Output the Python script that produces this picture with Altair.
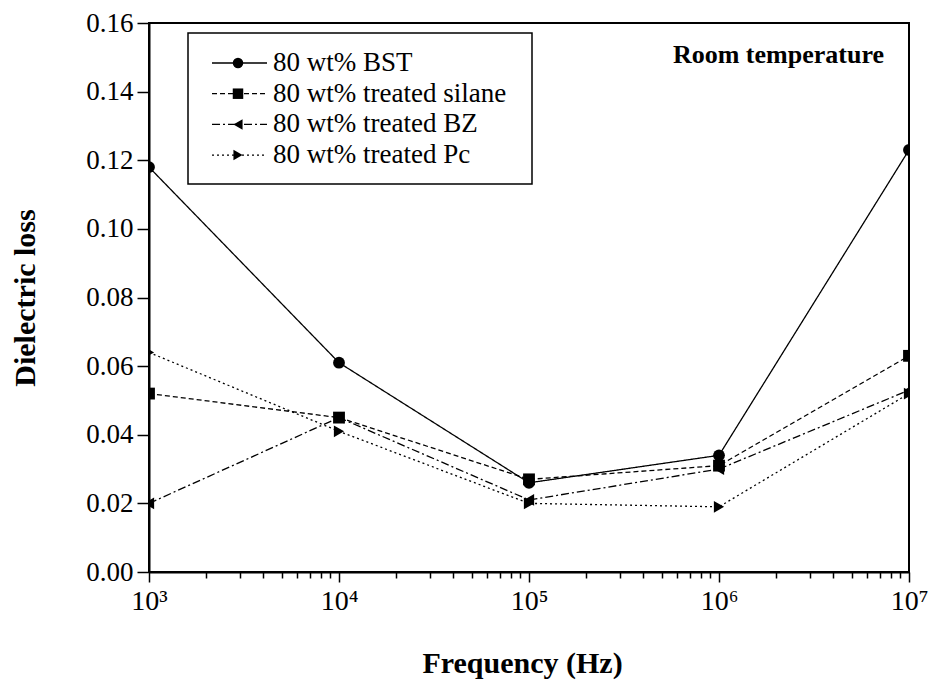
import altair as alt
import pandas as pd

# Measured dielectric loss of the BST composites at room temperature
freq = [1e3, 1e4, 1e5, 1e6, 1e7]
series = [
    "80 wt% BST",
    "80 wt% treated silane",
    "80 wt% treated BZ",
    "80 wt% treated Pc",
]
loss_bst = [0.118, 0.061, 0.026, 0.034, 0.123]
loss_silane = [0.052, 0.045, 0.027, 0.031, 0.063]
loss_bz = [0.020, 0.045, 0.021, 0.030, 0.053]
loss_pc = [0.064, 0.041, 0.020, 0.019, 0.052]

shapes = ["circle", "square", "triangle-left", "triangle-right"]
dashes = [[1, 0], [5, 3], [8, 3, 2, 3], [2, 3]]

rows = []
for name, vals in zip(series, [loss_bst, loss_silane, loss_bz, loss_pc]):
    for f, v in zip(freq, vals):
        rows.append({"series": name, "freq": f, "loss": v})
df = pd.DataFrame(rows)
legend_df = pd.DataFrame({"series": series, "idx": list(range(len(series)))})
one = pd.DataFrame({"a": [0]})

FONT = "Liberation Serif"

# axis tick positions: decades with minor ticks, 0.01 steps on y
x_ticks = [m * 10 ** k for k in range(3, 7) for m in range(1, 10)] + [1e7]
y_ticks = [round(i * 0.01, 2) for i in range(0, 17)]

is_decade = "abs(log(datum.value)/LN10 - round(log(datum.value)/LN10)) < 1e-6"
x_label = (
    f"({is_decade}) ? '10' + substring('⁰¹²³⁴⁵⁶⁷⁸⁹', round(log(datum.value)/LN10), "
    "round(log(datum.value)/LN10) + 1) : ''"
)
is_major_y = "round(datum.value*100) % 2 == 0"

x_enc = alt.X(
    "freq:Q",
    scale=alt.Scale(type="log", domain=[1e3, 1e7], nice=False),
    axis=alt.Axis(
        title="Frequency (Hz)",
        values=x_ticks,
        labelExpr=x_label,
        tickSize={"condition": {"test": is_decade, "value": 10}, "value": 6},
        labelPadding=5,
        labelFontSize=28,
        labelFlush=False,
        labelOverlap=False,
        titleX=373,
        titleY=100,
        titleBaseline="alphabetic",
    ),
)
y_enc = alt.Y(
    "loss:Q",
    scale=alt.Scale(domain=[0, 0.16], nice=False, zero=False),
    axis=alt.Axis(
        title="Dielectric loss",
        values=y_ticks,
        labelExpr=f"({is_major_y}) ? format(datum.value, '.2f') : ''",
        tickSize={"condition": {"test": is_major_y, "value": 12}, "value": 7},
        labelPadding=4,
        labelOverlap=False,
        labelFlush=False,
        titleX=-124,
        titleAngle=-90,
        titleAlign="center",
        titleBaseline="middle",
    ),
)

dash_scale = alt.Scale(domain=series, range=dashes)
shape_scale = alt.Scale(domain=series, range=shapes)

lines = alt.Chart(df).mark_line(color="black", strokeWidth=1.3, clip=True).encode(
    x=x_enc,
    y=y_enc,
    strokeDash=alt.StrokeDash("series:N", scale=dash_scale, legend=None),
    detail="series:N",
)
points = alt.Chart(df).mark_point(
    filled=True, color="black", opacity=1, size=140, clip=True
).encode(
    x="freq:Q",
    y="loss:Q",
    shape=alt.Shape("series:N", scale=shape_scale, legend=None),
)

# legend drawn as a framed box with sample line, marker and label per series
legend_box = alt.Chart(one).mark_rect(
    fill="white", stroke="black", strokeWidth=1.5
).encode(x=alt.value(39), x2=alt.value(383), y=alt.value(10), y2=alt.value(161))

legend_base = alt.Chart(legend_df).transform_calculate(py="40 + 30.7 * datum.idx")
legend_lines = legend_base.mark_rule(color="black", strokeWidth=1.3).encode(
    x=alt.value(63),
    x2=alt.value(118),
    y=alt.Y("py:Q", scale=None),
    strokeDash=alt.StrokeDash("series:N", scale=dash_scale, legend=None),
)
legend_pts = legend_base.mark_point(
    filled=True, color="black", opacity=1, size=110
).encode(
    x=alt.value(89),
    y=alt.Y("py:Q", scale=None),
    shape=alt.Shape("series:N", scale=shape_scale, legend=None),
)
legend_text = legend_base.mark_text(
    align="left", baseline="middle", font=FONT, fontSize=27, color="black"
).encode(x=alt.value(124), y=alt.Y("py:Q", scale=None), text="series:N")

room = alt.Chart(one).mark_text(
    align="right", baseline="alphabetic", font=FONT, fontSize=26,
    fontWeight="bold", color="black",
).encode(x=alt.value(735), y=alt.value(40), text=alt.value("Room temperature"))

chart = (
    alt.layer(lines, points, legend_box, legend_lines, legend_pts, legend_text, room)
    .properties(
        width=760,
        height=549,
        autosize=alt.AutoSizeParams(type="none"),
        padding={"left": 149, "top": 23, "right": 23, "bottom": 108},
        background="white",
    )
    .configure_view(stroke="black", strokeWidth=2)
    .configure_axis(
        grid=False,
        domainColor="black",
        domainWidth=2,
        tickColor="black",
        tickWidth=1.5,
        labelColor="black",
        labelFont=FONT,
        labelFontSize=27,
        titleColor="black",
        titleFont=FONT,
        titleFontSize=30,
        titleFontWeight="bold",
    )
)

chart.save("out.html", embed_options={"renderer": "svg", "actions": False})
